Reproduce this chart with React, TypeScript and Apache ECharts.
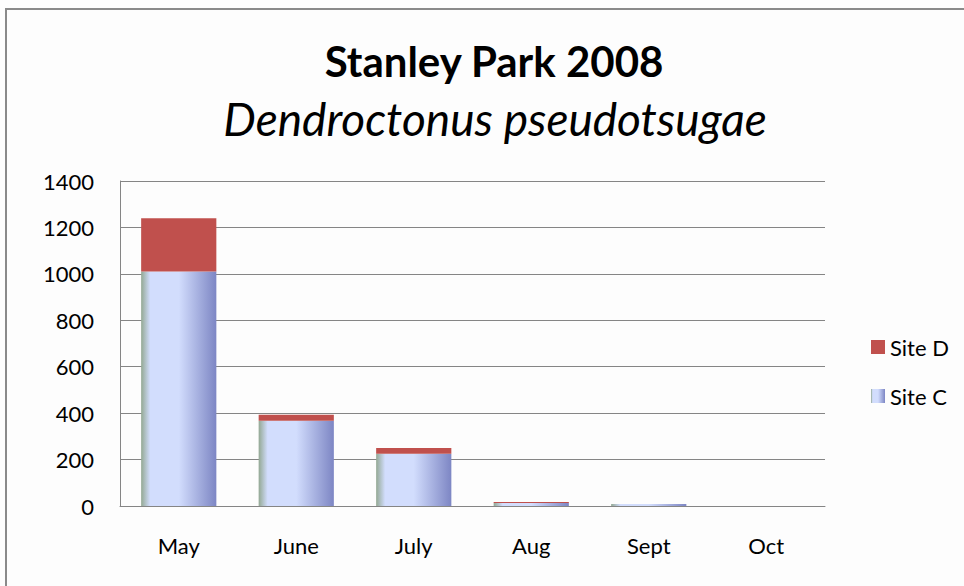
import React, { useEffect, useRef } from "react";
import * as echarts from "echarts";

const months = ["May", "June", "July", "Aug", "Sept", "Oct"];
const siteC = [1010, 367, 225, 13, 9, 0];
const siteD = [230, 26, 25, 4, 0, 0];
const titleText = "Stanley Park 2008";
const subtitleText = "Dendroctonus pseudotsugae";

const FONT = "Lato, 'Open Sans', sans-serif";

export default function App() {
  const ref = useRef<HTMLDivElement>(null);
  useEffect(() => {
    if (!ref.current) return;
    const chart = echarts.init(ref.current, undefined, { renderer: "svg" });
    const gradC = new echarts.graphic.LinearGradient(0, 0, 1, 0, [
      { offset: 0, color: "#93a893" },
      { offset: 0.12, color: "#d2ddfd" },
      { offset: 0.5, color: "#d2ddfd" },
      { offset: 1, color: "#7d86c4" },
    ]);
    chart.setOption({
      animation: false,
      backgroundColor: "#fdfdfd",
      textStyle: { fontFamily: FONT },
      graphic: [
        {
          type: "rect",
          shape: { x: 6, y: 9, width: 1100, height: 1000 },
          style: { fill: "none", stroke: "#8a8a8a", lineWidth: 2 },
          silent: true,
        },
        {
          type: "text",
          x: 494,
          y: 40,
          style: {
            text: titleText,
            fontFamily: FONT,
            fontWeight: "bold",
            fontSize: 42,
            fill: "#000",
            align: "center",
            verticalAlign: "top",
          },
        },
        {
          type: "text",
          x: 495,
          y: 95,
          style: {
            text: subtitleText,
            fontFamily: FONT,
            fontStyle: "italic",
            fontSize: 46,
            fill: "#000",
            align: "center",
            verticalAlign: "top",
          },
        },
      ],
      grid: { left: 120, right: 139, top: 181, bottom: 80, containLabel: false },
      legend: {
        orient: "vertical",
        left: 866,
        top: 331,
        itemWidth: 14,
        itemHeight: 14,
        itemGap: 27,
        icon: "rect",
        data: ["Site D", "Site C"],
        textStyle: { fontFamily: FONT, fontSize: 22, color: "#000" },
      },
      xAxis: {
        type: "category",
        data: months,
        axisLine: { show: true, lineStyle: { color: "#858585", width: 1 } },
        axisTick: { show: false },
        axisLabel: { fontFamily: FONT, fontSize: 22, color: "#000", margin: 28 },
      },
      yAxis: {
        type: "value",
        min: 0,
        max: 1400,
        interval: 200,
        axisLine: { show: true, lineStyle: { color: "#858585", width: 1 } },
        axisTick: { show: false },
        splitLine: { lineStyle: { color: "#858585", width: 1 } },
        axisLabel: {
          fontFamily: FONT,
          fontSize: 22,
          color: "#000",
          margin: 26,
          formatter: (v: number) => String(v),
        },
      },
      series: [
        {
          name: "Site C",
          type: "bar",
          stack: "total",
          data: siteC,
          barWidth: "64%",
          itemStyle: { color: gradC },
        },
        {
          name: "Site D",
          type: "bar",
          stack: "total",
          data: siteD,
          barWidth: "64%",
          itemStyle: { color: "#c0504d" },
        },
      ],
    });
    return () => chart.dispose();
  }, []);
  return (
    <div
      ref={ref}
      style={{ position: "fixed", left: 0, top: 0, width: 964, height: 586 }}
    />
  );
}
